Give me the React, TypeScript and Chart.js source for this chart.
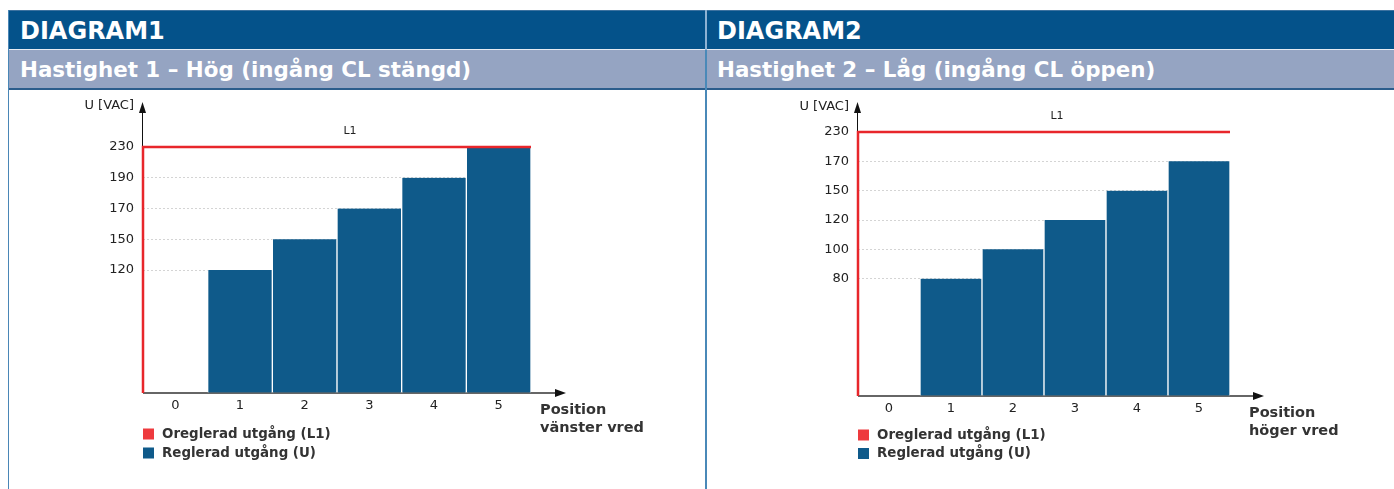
import React, { useEffect, useRef } from 'react';
import { Chart, registerables, LinearScale } from 'chart.js';

// ---------- data ----------
const POSITIONS = ['0', '1', '2', '3', '4', '5'];
const L1_VOLTAGE = 230;
const REGULATED_1 = [0, 120, 150, 170, 190, 230];
const REGULATED_2 = [0, 80, 100, 120, 150, 170];
const Y_TICKS_1 = [0, 120, 150, 170, 190, 230];
const Y_SLOTS_1 = [0, 4, 5, 6, 7, 8];
const Y_TICKS_2 = [0, 80, 100, 120, 150, 170, 230];
const Y_SLOTS_2 = [0, 4, 5, 6, 7, 8, 9];
const LABEL_L1 = 'Oreglerad utgång (L1)';
const LABEL_U = 'Reglerad utgång (U)';
const TITLE_1 = 'DIAGRAM1';
const TITLE_2 = 'DIAGRAM2';
const SUBTITLE_1 = 'Hastighet 1 – Hög (ingång CL stängd)';
const SUBTITLE_2 = 'Hastighet 2 – Låg (ingång CL öppen)';
const X_TITLE_1 = ['Position', 'vänster vred'];
const X_TITLE_2 = ['Position', 'höger vred'];
const Y_TITLE = 'U [VAC]';

const RED = '#e8262b';
const RED_LEGEND = '#ee3a3e';
const BLUE = '#0f5a8a';
const FONT = '"DejaVu Sans", Verdana, sans-serif';

// Value axis whose ticks sit in evenly spaced "slots" (non-linear voltage axis)
class SlotScale extends LinearScale {
  static id = 'slot';
  static defaults = {};
  determineDataLimits() {
    const v = (this as any).options.tickValues as number[];
    (this as any).min = v[0];
    (this as any).max = v[v.length - 1];
  }
  buildTicks() {
    const v = (this as any).options.tickValues as number[];
    return v.map((value) => ({ value }));
  }
  toSlot(value: number) {
    const v = (this as any).options.tickValues as number[];
    const s = (this as any).options.tickSlots as number[];
    if (value <= v[0]) return s[0];
    for (let i = 1; i < v.length; i++) {
      if (value <= v[i]) {
        return s[i - 1] + ((value - v[i - 1]) / (v[i] - v[i - 1])) * (s[i] - s[i - 1]);
      }
    }
    return s[s.length - 1];
  }
  getPixelForValue(value: any) {
    if (value === null || value === undefined || isNaN(value)) return NaN;
    const s = (this as any).options.tickSlots as number[];
    const f = (this.toSlot(value) - s[0]) / (s[s.length - 1] - s[0]);
    return (this as any).getPixelForDecimal(f);
  }
  getValueForPixel(pixel: number) {
    const v = (this as any).options.tickValues as number[];
    const s = (this as any).options.tickSlots as number[];
    const slot = s[0] + (this as any).getDecimalForPixel(pixel) * (s[s.length - 1] - s[0]);
    for (let i = 1; i < s.length; i++) {
      if (slot <= s[i]) {
        return v[i - 1] + ((slot - s[i - 1]) / (s[i] - s[i - 1])) * (v[i] - v[i - 1]);
      }
    }
    return v[v.length - 1];
  }
}

Chart.register(...registerables, SlotScale as any);

const decorPlugin = {
  id: 'decor',
  beforeDatasetsDraw(chart: any, _args: any, o: any) {
    const { ctx, chartArea: a } = chart;
    ctx.save();
    // x axis with arrow
    const tipX = a.right + o.arrowRight;
    ctx.strokeStyle = '#666';
    ctx.lineWidth = 2;
    ctx.beginPath();
    ctx.moveTo(a.left, a.bottom);
    ctx.lineTo(tipX - 8, a.bottom);
    ctx.stroke();
    ctx.fillStyle = '#111';
    ctx.beginPath();
    ctx.moveTo(tipX, a.bottom);
    ctx.lineTo(tipX - 11, a.bottom - 4);
    ctx.lineTo(tipX - 11, a.bottom + 4);
    ctx.closePath();
    ctx.fill();
    // y axis with arrow
    ctx.strokeStyle = '#111';
    ctx.lineWidth = 1;
    ctx.beginPath();
    ctx.moveTo(a.left - 0.5, a.bottom);
    ctx.lineTo(a.left - 0.5, o.arrowTop + 8);
    ctx.stroke();
    ctx.beginPath();
    ctx.moveTo(a.left - 0.5, o.arrowTop);
    ctx.lineTo(a.left - 4, o.arrowTop + 11);
    ctx.lineTo(a.left + 3, o.arrowTop + 11);
    ctx.closePath();
    ctx.fill();
    ctx.restore();
  },
  afterDatasetsDraw(chart: any, _args: any, o: any) {
    const { ctx, chartArea: a } = chart;
    ctx.save();
    ctx.fillStyle = '#222';
    ctx.textBaseline = 'middle';
    // y title
    ctx.font = '13px ' + FONT;
    ctx.textAlign = 'right';
    ctx.fillText(o.yTitle, a.left - 9, o.yTitleY);
    // L1 label
    ctx.font = '11px ' + FONT;
    ctx.textAlign = 'center';
    ctx.fillText('L1', (a.left + a.right) / 2 + o.l1Dx, a.top + o.l1Dy);
    // x title
    ctx.font = 'bold 14.5px ' + FONT;
    ctx.textAlign = 'left';
    ctx.fillStyle = '#333';
    (o.xTitle as string[]).forEach((t, i) => {
      ctx.fillText(t, a.right + o.posDx, a.bottom + o.posDy + i * 18);
    });
    // legend
    ctx.font = 'bold 13.4px ' + FONT;
    chart.data.datasets.forEach((ds: any, i: number) => {
      const cy = o.legendY + i * o.legendGap;
      const color = ds.type === 'line' ? RED_LEGEND : ds.backgroundColor;
      ctx.fillStyle = color;
      ctx.fillRect(a.left, cy - 5.5, 11, 11);
      ctx.fillStyle = '#333';
      ctx.fillText(ds.label, a.left + 19, cy + 0.5);
    });
    ctx.restore();
  },
};

type PanelProps = {
  regulated: number[];
  yTicks: number[];
  ySlots: number[];
  width: number;
  height: number;
  padding: { top: number; right: number; bottom: number; left: number };
  yWidth: number;
  decor: any;
};

function VoltageChart(p: PanelProps) {
  const ref = useRef<HTMLCanvasElement | null>(null);
  useEffect(() => {
    if (!ref.current) return;
    const n = POSITIONS.length;
    const chart = new Chart(ref.current, {
      type: 'bar',
      data: {
        labels: POSITIONS,
        datasets: [
          {
            type: 'line',
            label: LABEL_L1,
            data: [
              { x: -0.5, y: 0 },
              { x: -0.5, y: L1_VOLTAGE },
              { x: n - 0.5, y: L1_VOLTAGE },
            ],
            xAxisID: 'xl',
            yAxisID: 'y',
            borderColor: RED,
            backgroundColor: RED,
            borderWidth: 2.5,
            borderJoinStyle: 'miter',
            pointRadius: 0,
            tension: 0,
            fill: false,
            clip: false,
            grouped: false,
          } as any,
          {
            type: 'bar',
            label: LABEL_U,
            data: p.regulated,
            xAxisID: 'x',
            yAxisID: 'y',
            backgroundColor: BLUE,
            borderColor: '#ffffff',
            borderWidth: { top: 0, bottom: 0, left: 1, right: 1 },
            barPercentage: 1,
            categoryPercentage: 1,
            grouped: false,
          } as any,
        ],
      },
      options: {
        animation: false,
        responsive: false,
        maintainAspectRatio: false,
        layout: { padding: p.padding },
        plugins: {
          legend: { display: false },
          tooltip: { enabled: false },
          decor: p.decor,
        } as any,
        scales: {
          x: {
            type: 'category',
            position: 'bottom',
            offset: true,
            grid: { display: false, drawTicks: false },
            border: { display: false },
            ticks: { color: '#222', font: { size: 13, family: FONT }, padding: 5 },
            afterFit: (s: any) => {
              s.height = 20;
            },
          },
          xl: {
            type: 'linear',
            display: false,
            offset: false,
            grid: { offset: false },
            min: -0.5,
            max: n - 0.5,
          },
          y: {
            type: 'slot',
            position: 'left',
            tickValues: p.yTicks,
            tickSlots: p.ySlots,
            grid: {
              drawTicks: false,
              lineWidth: 1,
              color: (c: any) =>
                c.tick && (c.tick.value === 0 || c.tick.value === L1_VOLTAGE) ? 'rgba(0,0,0,0)' : '#d4d4d4',
            },
            border: { display: false, dash: [2, 2] },
            ticks: {
              autoSkip: false,
              color: '#222',
              padding: 9,
              font: { size: 13, family: FONT },
              callback: (v: any) => (v === 0 ? '' : String(v)),
            },
            afterFit: (s: any) => {
              s.width = p.yWidth;
            },
          } as any,
        },
      } as any,
      plugins: [decorPlugin as any],
    });
    return () => chart.destroy();
  }, []);
  return <canvas ref={ref} width={p.width} height={p.height} style={{ display: 'block' }} />;
}

export default function App() {
  const headText: React.CSSProperties = {
    position: 'absolute',
    color: '#ffffff',
    fontFamily: FONT,
    fontWeight: 'bold',
    whiteSpace: 'nowrap',
  };
  return (
    <div style={{ position: 'absolute', left: 0, top: 0, width: 1394, height: 489, overflow: 'hidden', background: '#fff' }}>
      {/* header band */}
      <div style={{ position: 'absolute', left: 8, top: 10, width: 1386, height: 39, background: '#04528a', borderTop: '1px solid #3d72a0', boxSizing: 'border-box' }} />
      <div style={{ position: 'absolute', left: 8, top: 49, width: 1386, height: 1, background: '#e6ebf2' }} />
      <div style={{ position: 'absolute', left: 8, top: 50, width: 1386, height: 38, background: '#95a4c2' }} />
      <div style={{ position: 'absolute', left: 8, top: 88, width: 1386, height: 2, background: '#2b5d8c' }} />
      {/* borders */}
      <div style={{ position: 'absolute', left: 8, top: 10, width: 1, height: 479, background: '#4a86b6' }} />
      <div style={{ position: 'absolute', left: 705, top: 10, width: 2, height: 40, background: '#8db2d3' }} />
      <div style={{ position: 'absolute', left: 705, top: 50, width: 2, height: 439, background: '#4a89b8' }} />
      {/* header texts */}
      <div style={{ ...headText, left: 20, top: 17, fontSize: 24, lineHeight: '28px' }}>{TITLE_1}</div>
      <div style={{ ...headText, left: 717, top: 17, fontSize: 24, lineHeight: '28px' }}>{TITLE_2}</div>
      <div style={{ ...headText, left: 20, top: 57, fontSize: 21.4, lineHeight: '26px' }}>{SUBTITLE_1}</div>
      <div style={{ ...headText, left: 717, top: 57, fontSize: 21.4, lineHeight: '26px' }}>{SUBTITLE_2}</div>
      {/* charts */}
      <div style={{ position: 'absolute', left: 9, top: 90 }}>
        <VoltageChart
          regulated={REGULATED_1}
          yTicks={Y_TICKS_1}
          ySlots={Y_SLOTS_1}
          width={696}
          height={399}
          padding={{ top: 57, right: 174, bottom: 76, left: 0 }}
          yWidth={134}
          decor={{
            arrowRight: 35,
            arrowTop: 12,
            yTitle: Y_TITLE,
            yTitleY: 16,
            l1Dx: 13,
            l1Dy: -16,
            xTitle: X_TITLE_1,
            posDx: 9,
            posDy: 17.5,
            legendY: 344,
            legendGap: 19,
          }}
        />
      </div>
      <div style={{ position: 'absolute', left: 707, top: 90 }}>
        <VoltageChart
          regulated={REGULATED_2}
          yTicks={Y_TICKS_2}
          ySlots={Y_SLOTS_2}
          width={687}
          height={399}
          padding={{ top: 42, right: 164, bottom: 73, left: 0 }}
          yWidth={151}
          decor={{
            arrowRight: 34,
            arrowTop: 12,
            yTitle: Y_TITLE,
            yTitleY: 17,
            l1Dx: 13,
            l1Dy: -16,
            xTitle: X_TITLE_2,
            posDx: 19,
            posDy: 17,
            legendY: 345,
            legendGap: 18.5,
          }}
        />
      </div>
    </div>
  );
}
